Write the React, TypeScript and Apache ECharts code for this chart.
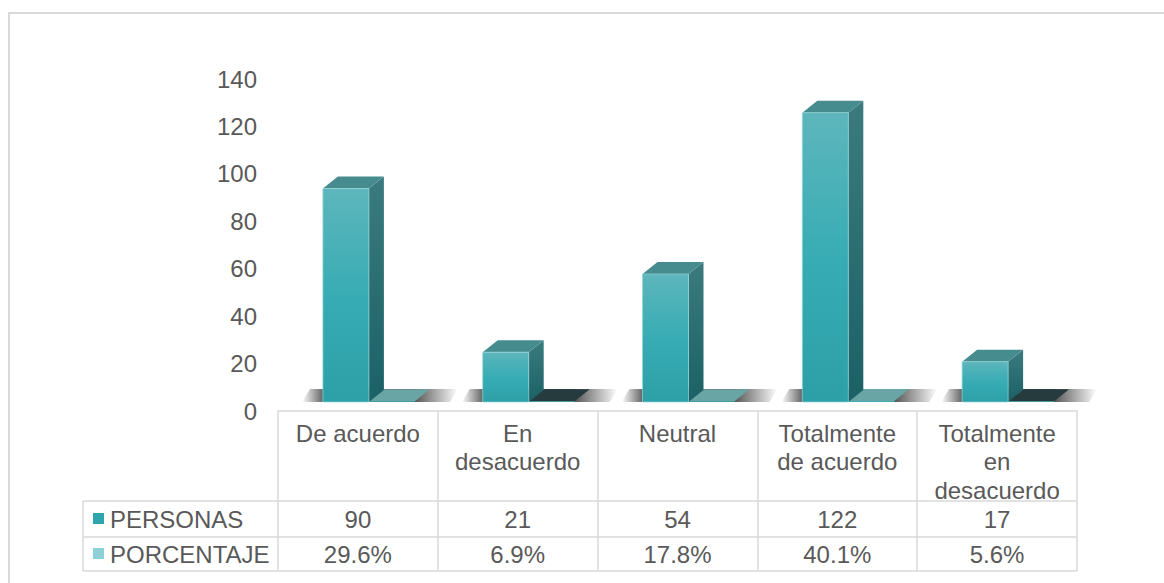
import React, { useEffect, useRef } from "react";
import * as echarts from "echarts";

// ---- data ----
const categoryLabels = [
  "De acuerdo",
  "En\ndesacuerdo",
  "Neutral",
  "Totalmente\nde acuerdo",
  "Totalmente\nen\ndesacuerdo",
];
const seriesNames = ["PERSONAS", "PORCENTAJE"];
const personas = [90, 21, 54, 122, 17];
const porcentaje = [0.296, 0.069, 0.178, 0.401, 0.056];
const yMin = 0;
const yMax = 140;
const yStep = 20;

// ---- styles ----
const FONT = "'Liberation Sans', Arial, sans-serif";
const TXT = "#595959";
const LINE = "#d9d9d9";
const FS = 24;
const flatTopColors = ["#6aa5a5", "#263b3d", "#6aa5a5", "#6aa5a5", "#263b3d"];
const DX = 15;
const DY = 12;
const LIFT = 9;

export default function App() {
  const ref = useRef<HTMLDivElement>(null);
  useEffect(() => {
    if (!ref.current) return;
    const chart = echarts.init(ref.current, null, { renderer: "svg" });
    const data = categoryLabels.map((_, i) => [i, personas[i], porcentaje[i]]);

    const renderItem = (params: any, api: any) => {
      const i = api.value(0);
      const [cx, y0] = api.coord([i, 0]);
      const base = y0 - LIFT;
      const top1 = api.coord([i, api.value(1)])[1] - LIFT;
      const top2 = Math.min(api.coord([i, api.value(2)])[1] - LIFT, base - 0.8);
      const a1 = cx - 35, a2 = cx + 11;
      const b1 = cx + 11, b2 = cx + 57;
      const children: any[] = [];
      // shadow
      children.push({
        type: "polygon",
        shape: {
          points: [
            [cx - 56, base],
            [cx + 92, base],
            [cx + 100, base - DY - 1],
            [cx - 48, base - DY - 1],
          ],
        },
        style: {
          fill: new echarts.graphic.LinearGradient(0, 0, 1, 0, [
            { offset: 0, color: "rgba(40,40,40,0)" },
            { offset: 0.15, color: "rgba(40,40,40,0.8)" },
            { offset: 0.72, color: "rgba(40,40,40,0.8)" },
            { offset: 1, color: "rgba(40,40,40,0)" },
          ]),
        },
      });
      // flat bar (PORCENTAJE)
      children.push({
        type: "polygon",
        shape: { points: [[b1, top2], [b2, top2], [b2 + DX, top2 - DY], [b1 + DX, top2 - DY]] },
        style: { fill: flatTopColors[i] },
      });
      children.push({
        type: "rect",
        shape: { x: b1, y: top2, width: b2 - b1, height: base - top2 },
        style: { fill: "#3fb0b8" },
      });
      // main bar (PERSONAS)
      children.push({
        type: "polygon",
        shape: { points: [[a2, top1], [a2 + DX, top1 - DY], [a2 + DX, base - DY], [a2, base]] },
        style: {
          fill: new echarts.graphic.LinearGradient(0, 0, 0, 1, [
            { offset: 0, color: "#3b7b7f" },
            { offset: 1, color: "#1a6166" },
          ]),
        },
      });
      children.push({
        type: "polygon",
        shape: { points: [[a1, top1], [a2, top1], [a2 + DX, top1 - DY], [a1 + DX, top1 - DY]] },
        style: { fill: "#468b8e" },
      });
      children.push({
        type: "rect",
        shape: { x: a1, y: top1, width: a2 - a1, height: base - top1 },
        style: {
          fill: new echarts.graphic.LinearGradient(0, 0, 0, 1, [
            { offset: 0, color: "#5db6bc" },
            { offset: 0.5, color: "#38acb4" },
            { offset: 1, color: "#2c9fa7" },
          ]),
          stroke: "rgba(150,215,220,0.7)",
          lineWidth: 1,
        },
      });
      // table values
      children.push({
        type: "text",
        style: {
          text: String(api.value(1)),
          x: cx, y: 519, align: "center", verticalAlign: "middle",
          font: `${FS}px ${FONT}`, fill: TXT,
        },
      });
      children.push({
        type: "text",
        style: {
          text: (api.value(2) * 100).toFixed(1) + "%",
          x: cx, y: 554, align: "center", verticalAlign: "middle",
          font: `${FS}px ${FONT}`, fill: TXT,
        },
      });
      return { type: "group", children };
    };

    const line = (x1: number, y1: number, x2: number, y2: number) => ({
      type: "line",
      shape: { x1, y1, x2, y2 },
      style: { stroke: LINE, lineWidth: 1.5 },
    });

    chart.setOption({
      animation: false,
      backgroundColor: "#ffffff",
      grid: { left: 278, right: 87, top: 79, bottom: 172 },
      xAxis: {
        type: "category",
        data: categoryLabels,
        axisLine: { show: true, lineStyle: { color: LINE, width: 1.5 } },
        axisTick: { show: true, interval: 0, length: 160, lineStyle: { color: LINE, width: 1.5 } },
        axisLabel: {
          interval: 0,
          margin: 8,
          color: TXT,
          fontFamily: FONT,
          fontSize: FS,
          lineHeight: 28.5,
          verticalAlign: "top",
        },
      },
      yAxis: {
        type: "value",
        min: yMin,
        max: yMax,
        interval: yStep,
        axisLine: { show: false },
        axisTick: { show: false },
        splitLine: { show: false },
        axisLabel: { margin: 21, color: TXT, fontFamily: FONT, fontSize: FS },
      },
      series: [
        {
          type: "custom",
          name: seriesNames[0],
          renderItem,
          clip: false,
          encode: { x: 0, y: 1 },
          data,
        },
      ],
      graphic: [
        {
          type: "rect",
          shape: { x: 9, y: 13, width: 1200, height: 620 },
          style: { fill: "none", stroke: LINE, lineWidth: 2 },
          silent: true,
        },
        line(83, 501, 1077, 501),
        line(83, 537, 1077, 537),
        line(83, 571, 1077, 571),
        line(83, 501, 83, 571),
        { type: "rect", shape: { x: 93, y: 513, width: 11, height: 11 }, style: { fill: "#2ea4ac" } },
        { type: "rect", shape: { x: 93, y: 548, width: 11, height: 11 }, style: { fill: "#8fd0d6" } },
        {
          type: "text",
          style: { text: seriesNames[0], x: 110, y: 519, verticalAlign: "middle", font: `${FS}px ${FONT}`, fill: TXT },
        },
        {
          type: "text",
          style: { text: seriesNames[1], x: 110, y: 554, verticalAlign: "middle", font: `${FS}px ${FONT}`, fill: TXT },
        },
      ],
    });
    return () => chart.dispose();
  }, []);
  return (
    <div
      ref={ref}
      style={{ position: "fixed", left: 0, top: 0, width: 1164, height: 583, background: "#fff" }}
    />
  );
}
